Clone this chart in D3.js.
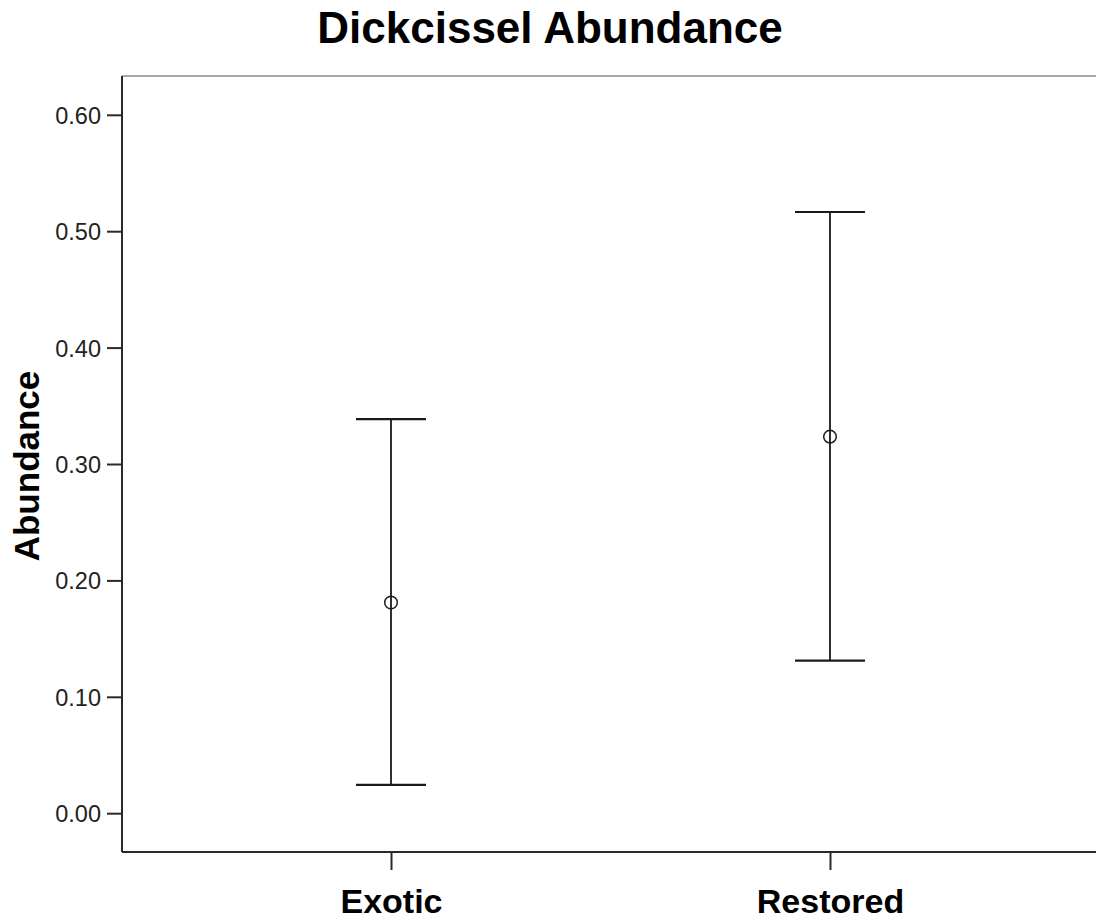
<!DOCTYPE html>
<html>
<head>
<meta charset="utf-8">
<script src="https://cdn.jsdelivr.net/npm/d3@7"></script>
<style>
  html, body { margin: 0; padding: 0; background: #fff; overflow: hidden; }
  svg { display: block; }
  text { font-family: "Liberation Sans", Arial, sans-serif; }
</style>
</head>
<body>
<svg id="chart" width="1096" height="924"></svg>
<script>
// ---- data ----
const categories = ["Exotic", "Restored"];
const means = [0.181, 0.3235];
const upperCI = [0.3385, 0.5165];
const lowerCI = [0.0243, 0.131];
const yTicks = [0.0, 0.1, 0.2, 0.3, 0.4, 0.5, 0.6];
const title = "Dickcissel Abundance";
const yLabel = "Abundance";

const svg = d3.select("#chart");
const pLeft = 122, pRight = 1099, pTop = 76, pBottom = 852;

const y = d3.scaleLinear().domain([-1/30, 19/30]).range([pBottom, pTop]);
const x = d3.scalePoint().domain(categories).range([pLeft, pRight]).padding(0.6128);

// frame (top edge; right edge lies beyond the visible area)
svg.append("line").attr("x1", pLeft).attr("x2", pRight).attr("y1", pTop).attr("y2", pTop)
  .attr("stroke", "#a6a6a6").attr("stroke-width", 2);

// y axis
const yAxis = d3.axisLeft(y).tickValues(yTicks).tickSize(15).tickPadding(6)
  .tickFormat(d3.format(".2f"));
const gy = svg.append("g").attr("transform", `translate(${pLeft},0)`).call(yAxis);
gy.select(".domain").attr("d", `M0,${pTop}V${pBottom}`).attr("stroke", "#2a2a2a").attr("stroke-width", 2);
gy.selectAll(".tick line").attr("stroke", "#2a2a2a").attr("stroke-width", 2);
gy.selectAll(".tick text").attr("fill", "#222").attr("font-size", 23.5)
  .attr("font-family", "'Liberation Sans', Arial, sans-serif").attr("dy", "0.36em");

// x axis
const xAxis = d3.axisBottom(x).tickSize(18).tickPadding(19);
const gx = svg.append("g").attr("transform", `translate(0,${pBottom})`).call(xAxis);
gx.select(".domain").attr("d", `M${pLeft},0H${pRight}`).attr("stroke", "#2a2a2a").attr("stroke-width", 2);
gx.selectAll(".tick line").attr("stroke", "#2a2a2a").attr("stroke-width", 2);
gx.selectAll(".tick text").attr("fill", "#000").attr("font-size", 34).attr("font-weight", "bold")
  .attr("font-family", "'Liberation Sans', Arial, sans-serif");

// error bars
const data = categories.map((c, i) => ({c, m: means[i], hi: upperCI[i], lo: lowerCI[i]}));
const capHalf = 35;
const g = svg.append("g");
g.selectAll(".stem").data(data).enter().append("line")
  .attr("x1", d => x(d.c)).attr("x2", d => x(d.c))
  .attr("y1", d => y(d.hi)).attr("y2", d => y(d.lo))
  .attr("stroke", "#1a1a1a").attr("stroke-width", 1.8);
g.selectAll(".capHi").data(data).enter().append("line")
  .attr("x1", d => x(d.c) - capHalf).attr("x2", d => x(d.c) + capHalf)
  .attr("y1", d => y(d.hi)).attr("y2", d => y(d.hi))
  .attr("stroke", "#1a1a1a").attr("stroke-width", 2.2);
g.selectAll(".capLo").data(data).enter().append("line")
  .attr("x1", d => x(d.c) - capHalf).attr("x2", d => x(d.c) + capHalf)
  .attr("y1", d => y(d.lo)).attr("y2", d => y(d.lo))
  .attr("stroke", "#1a1a1a").attr("stroke-width", 2.2);
g.selectAll(".mean").data(data).enter().append("circle")
  .attr("cx", d => x(d.c)).attr("cy", d => y(d.m)).attr("r", 6.3)
  .attr("fill", "none").attr("stroke", "#1a1a1a").attr("stroke-width", 1.5);

// title
svg.append("text").attr("x", 550).attr("y", 43).attr("text-anchor", "middle")
  .attr("font-size", 44).attr("font-weight", "bold").attr("fill", "#000").text(title);

// y label
svg.append("text").attr("transform", `translate(39,466) rotate(-90)`).attr("text-anchor", "middle")
  .attr("font-size", 35).attr("font-weight", "bold").attr("fill", "#000").text(yLabel);
</script>
</body>
</html>
